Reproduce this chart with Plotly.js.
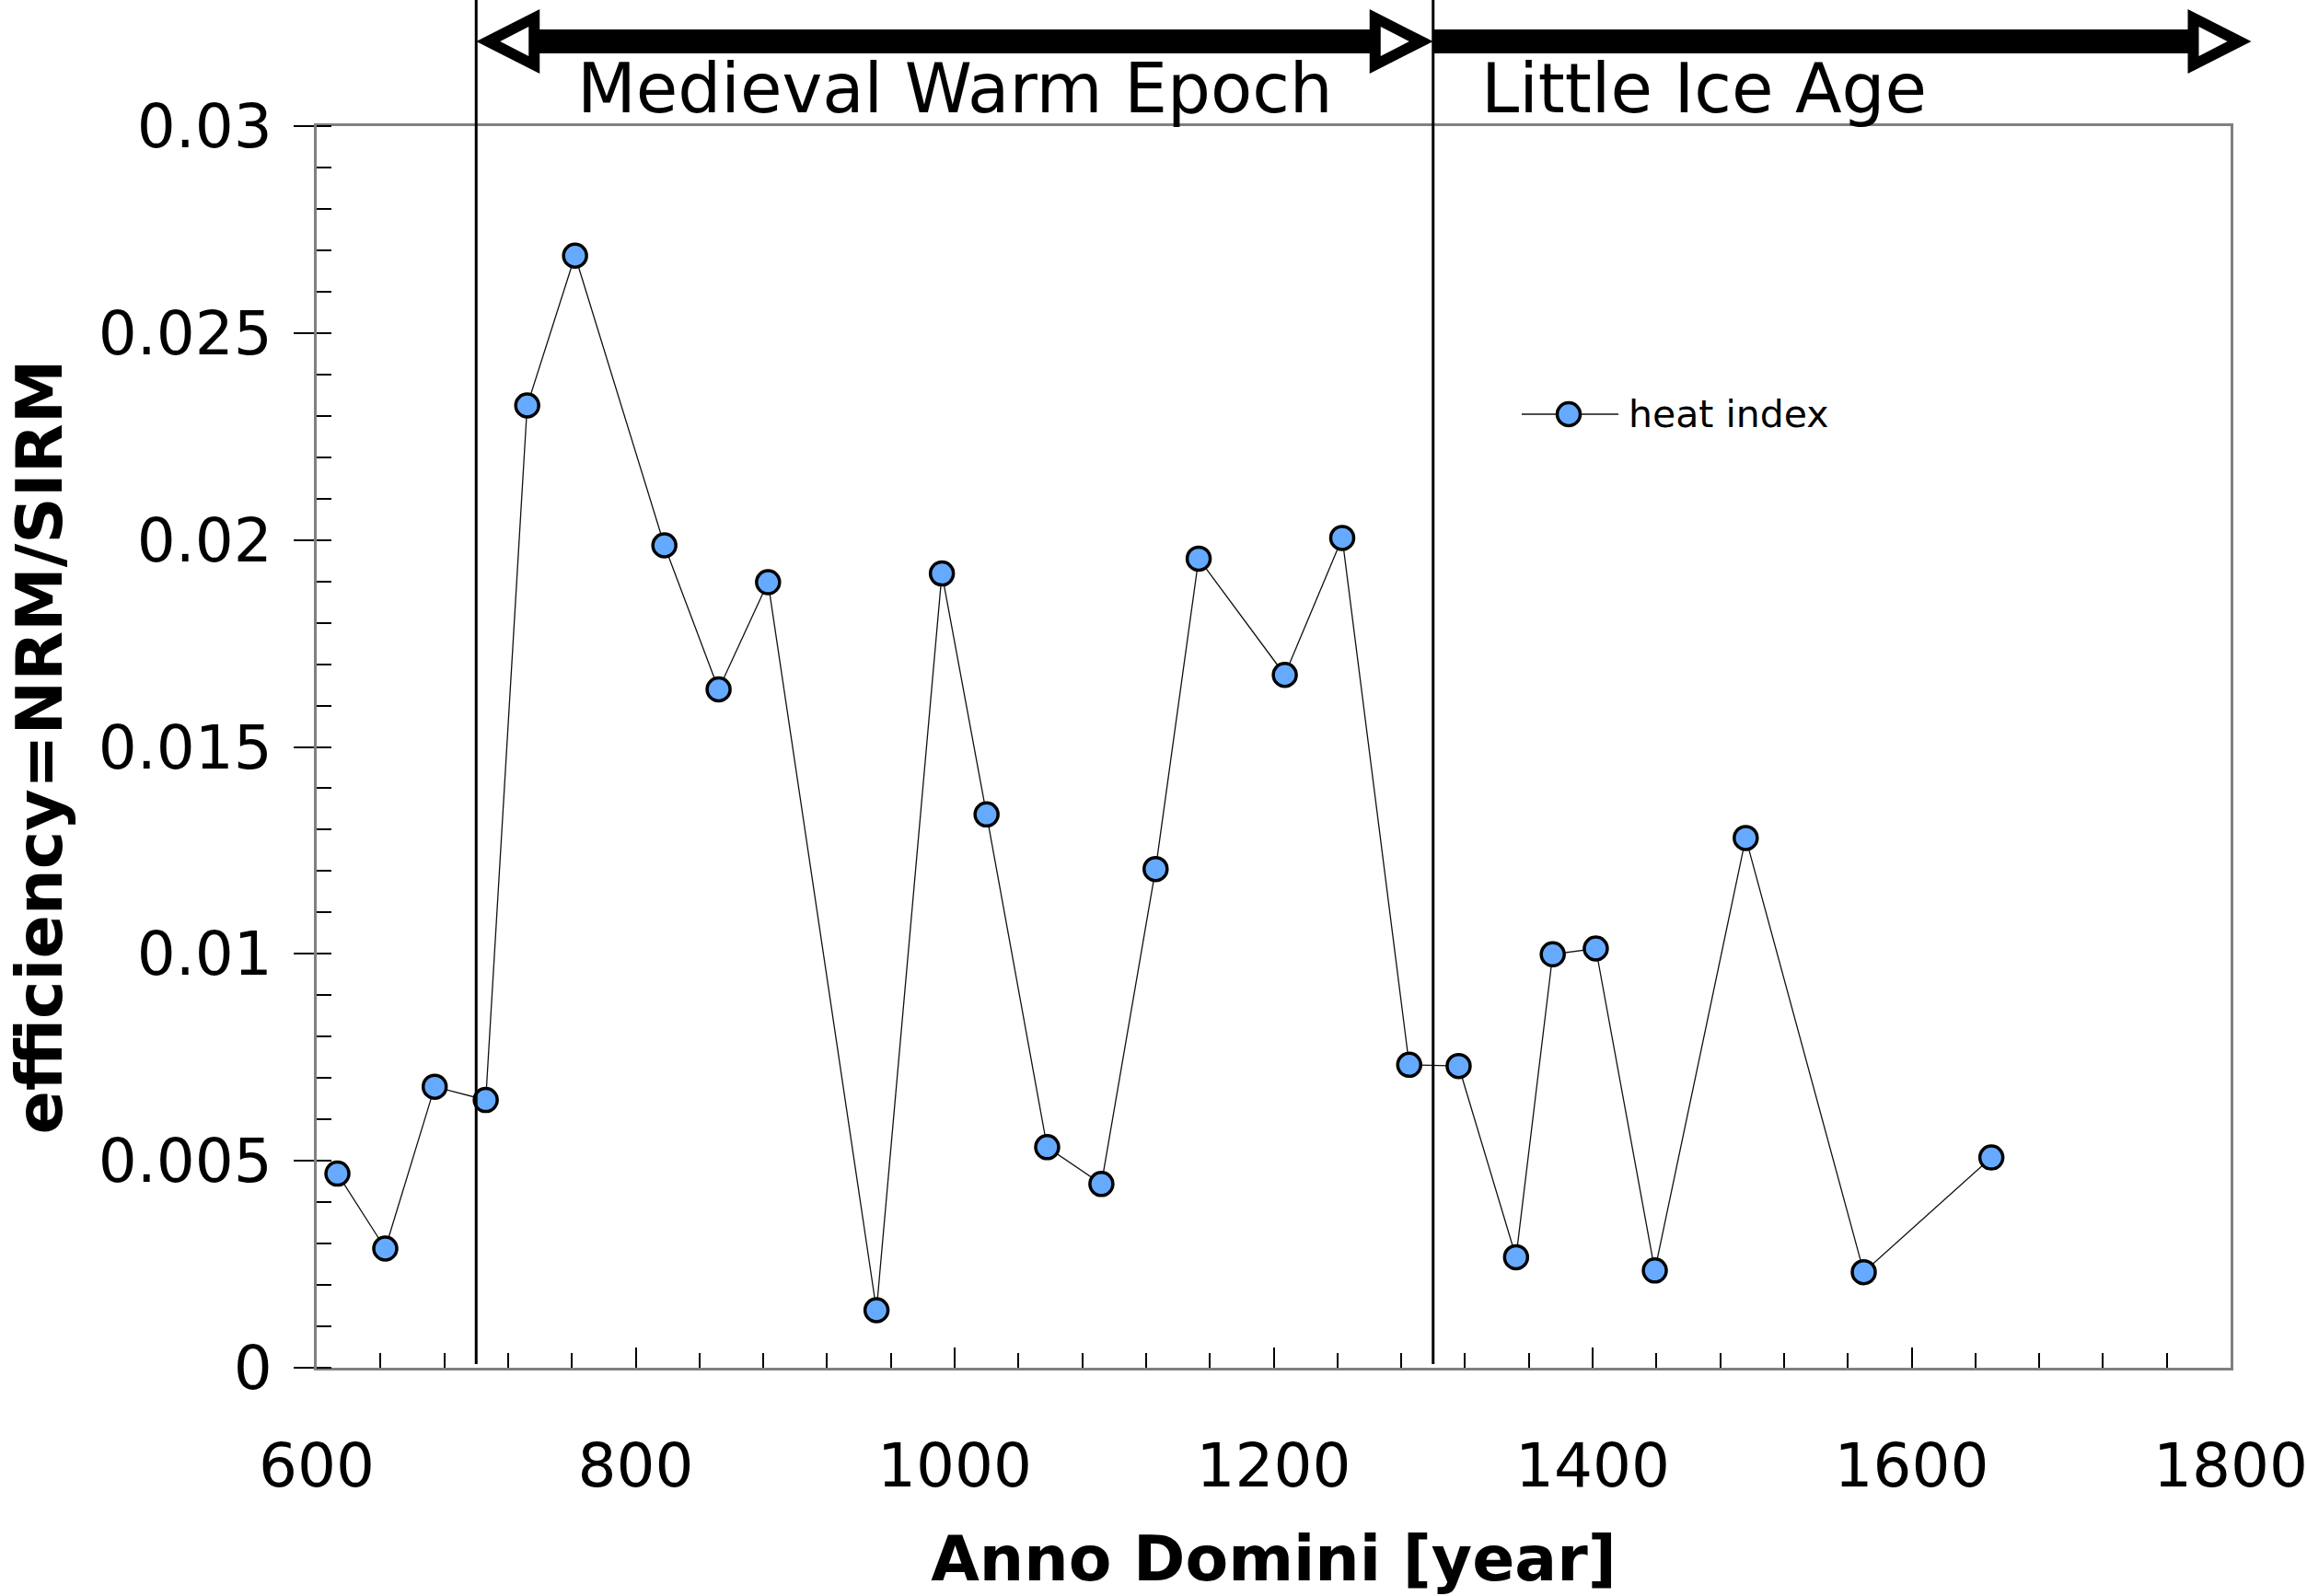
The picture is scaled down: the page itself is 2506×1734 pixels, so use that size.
<!DOCTYPE html>
<html>
<head>
<meta charset="utf-8">
<script src="https://cdn.plot.ly/plotly-3.0.1.min.js"></script>
<style>
  html, body { margin: 0; padding: 0; background: #fff; }
  #chart { width: 2506px; height: 1734px; }
</style>
</head>
<body>
<div id="chart"></div>
<script>
// heat index samples
let years = [613, 643, 674, 706, 732, 762, 818, 852, 883, 951, 992, 1020, 1058, 1092,
             1126, 1153, 1207, 1243, 1285, 1316, 1352, 1375, 1402, 1439, 1496, 1570, 1650];
let efficiency = [0.00469, 0.00288, 0.00679, 0.00647, 0.02325, 0.02687, 0.01987, 0.01639,
                  0.01898, 0.00139, 0.01919, 0.01337, 0.00533, 0.00444, 0.01205, 0.01955,
                  0.01674, 0.02005, 0.00732, 0.00729, 0.00267, 0.00999, 0.01013, 0.00235,
                  0.01280, 0.00231, 0.00508];
let seriesName = 'heat index';
let xTitle = 'Anno Domini [year]';
let yTitle = 'efficiency=NRM/SIRM';

// climate epochs marked above the plot
let epochNames = ['Medieval Warm Epoch', 'Little Ice Age'];
let epochStart = [700, 1300];
let epochEnd = [1300, 1813];
let epochLabelX = [1000, 1470];
let epochLeftHead = [true, false];
let boundaryYears = [700, 1300];

let xRange = [600, 1800];
let yRange = [0, 0.03];

let W = 2506, H = 1734;
let margin = {l: 344, r: 83, t: 137, b: 248};
let plotW = W - margin.l - margin.r;
let plotH = H - margin.t - margin.b;

function yearToPaper(yr) {
  return (yr - xRange[0]) / (xRange[1] - xRange[0]);
}
function pxX(px) { return px / plotW; }
function pxY(px) { return px / plotH; }
// page pixel -> paper
function pageX(px) { return (px - margin.l) / plotW; }
function pageY(py) { return 1 - (py - margin.t) / plotH; }

let arrowY = pageY(45);
let headLen = 69, headHalf = 35, innerTip = 26, innerBack = 57, innerHalf = 16;

function tri(tipX, dir, tipOff, backOff, half, color) {
  let tx = tipX + dir * pxX(tipOff);
  let bx = tipX + dir * pxX(backOff);
  return {
    type: 'path', xref: 'paper', yref: 'paper',
    path: 'M' + tx + ',' + arrowY + ' L' + bx + ',' + (arrowY + pxY(half)) +
          ' L' + bx + ',' + (arrowY - pxY(half)) + ' Z',
    fillcolor: color, line: {width: 0}, layer: 'above'
  };
}
function head(tipX, dir) {
  // dir = -1 points left, +1 points right
  return [tri(tipX, -dir, 0, headLen, headHalf, 'black'),
          tri(tipX, -dir, innerTip, innerBack, innerHalf, 'white')];
}

let trace = {
  x: years,
  y: efficiency,
  type: 'scatter',
  mode: 'lines+markers',
  name: seriesName,
  showlegend: false,
  line: {color: '#111', width: 1.3},
  marker: {color: '#66AAFF', size: 25, line: {color: 'black', width: 3.5}}
};

let shapes = [];
for (let i = 0; i < boundaryYears.length; i++) {
  shapes.push({
    type: 'line', xref: 'x', yref: 'paper',
    x0: boundaryYears[i], x1: boundaryYears[i],
    y0: 0.003, y1: 1 + pxY(margin.t),
    line: {color: 'black', width: 3}
  });
}
let annotations = [];
for (let i = 0; i < epochNames.length; i++) {
  let a = yearToPaper(epochStart[i]);
  let b = yearToPaper(epochEnd[i]);
  shapes.push({
    type: 'line', xref: 'paper', yref: 'paper',
    x0: epochLeftHead[i] ? a + pxX(60) : a, x1: b - pxX(60),
    y0: arrowY, y1: arrowY,
    line: {color: 'black', width: 26}
  });
  if (epochLeftHead[i]) shapes = shapes.concat(head(a, -1));
  shapes = shapes.concat(head(b, 1));
  annotations.push({
    text: epochNames[i], xref: 'x', yref: 'paper',
    x: epochLabelX[i], y: 1, xanchor: 'center', yanchor: 'bottom',
    yshift: -3, showarrow: false, borderpad: 0,
    font: {family: 'DejaVu Sans', size: 74, color: 'black'}
  });
}

// legend key, styled from the trace
let keyX = 1704, keyY = 450, keyR = trace.marker.size / 2;
shapes.push({
  type: 'line', xref: 'paper', yref: 'paper',
  x0: pageX(1653), x1: pageX(1758), y0: pageY(keyY), y1: pageY(keyY),
  line: {color: trace.line.color, width: trace.line.width}
});
shapes.push({
  type: 'circle', xref: 'paper', yref: 'paper',
  x0: pageX(keyX - keyR), x1: pageX(keyX + keyR),
  y0: pageY(keyY + keyR), y1: pageY(keyY - keyR),
  fillcolor: trace.marker.color,
  line: {color: trace.marker.line.color, width: trace.marker.line.width}
});
annotations.push({
  text: seriesName, xref: 'paper', yref: 'paper',
  x: pageX(1768), y: pageY(keyY), xanchor: 'left', yanchor: 'middle',
  showarrow: false, borderpad: 0,
  font: {family: 'DejaVu Sans', size: 41, color: 'black'}
});

// y axis title, set at the page edge
annotations.push({
  text: yTitle, xref: 'paper', yref: 'paper',
  x: pageX(0), y: 0.5, xanchor: 'left', yanchor: 'middle',
  textangle: -90, showarrow: false, borderpad: 0,
  font: {family: 'DejaVu Sans', size: 70, weight: 'bold', color: 'black'}
});

let layout = {
  width: W, height: H,
  margin: margin,
  paper_bgcolor: 'white', plot_bgcolor: 'white',
  font: {family: 'DejaVu Sans', color: 'black'},
  showlegend: false,
  xaxis: {
    range: xRange, dtick: 200, tick0: 600,
    showgrid: false, zeroline: false,
    showline: true, linecolor: '#808080', linewidth: 3, mirror: true,
    ticks: 'inside', ticklen: 22, tickwidth: 2, tickcolor: 'black',
    minor: {dtick: 40, ticks: 'inside', ticklen: 16, tickwidth: 2, tickcolor: 'black', showgrid: false},
    tickfont: {family: 'DejaVu Sans', size: 66, color: 'black'},
    ticklabelstandoff: 47,
    ticklabeloverflow: 'allow',
    title: {text: xTitle, standoff: 40,
            font: {family: 'DejaVu Sans', size: 68, weight: 'bold', color: 'black'}}
  },
  yaxis: {
    range: yRange, dtick: 0.005, tick0: 0,
    showgrid: false, zeroline: false,
    showline: true, linecolor: '#808080', linewidth: 3, mirror: true,
    ticks: 'outside', ticklen: 22, tickwidth: 2, tickcolor: 'black',
    minor: {dtick: 0.001, ticks: 'inside', ticklen: 16, tickwidth: 2, tickcolor: 'black', showgrid: false},
    tickfont: {family: 'DejaVu Sans', size: 66, color: 'black'},
    ticklabelstandoff: 10,
    ticklabeloverflow: 'allow'
  },
  shapes: shapes,
  annotations: annotations
};

Plotly.newPlot('chart', [trace], layout, {displayModeBar: false, staticPlot: true});
</script>
</body>
</html>
